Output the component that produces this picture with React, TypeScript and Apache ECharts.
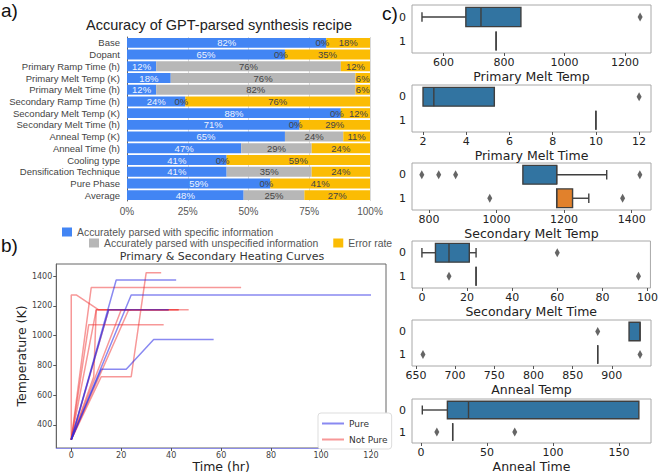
import React, { useEffect, useRef } from 'react';
import * as echarts from 'echarts';

// ---------- Panel a data ----------
const barCategories = ['Base', 'Dopant', 'Primary Ramp Time (h)', 'Primary Melt Temp (K)', 'Primary Melt Time (h)', 'Secondary Ramp Time (h)', 'Secondary Melt Temp (K)', 'Secondary Melt Time (h)', 'Anneal Temp (K)', 'Anneal Time (h)', 'Cooling type', 'Densification Technique', 'Pure Phase', 'Average'];
const specificInfo = [82, 65, 12, 18, 12, 24, 88, 71, 65, 47, 41, 41, 59, 48];
const unspecifiedInfo = [0, 0, 76, 76, 82, 0, 0, 0, 24, 29, 0, 35, 0, 25];
const errorRate = [18, 35, 12, 6, 6, 76, 12, 29, 11, 24, 59, 24, 41, 27];
const pctTicks = [0, 25, 50, 75, 100];

// ---------- Panel b data (time hr, temperature K) ----------
const pureCurves = [
  [[0, 300], [18, 1373], [42, 1373]],
  [[0, 300], [24, 1273], [120, 1273]],
  [[0, 300], [12, 773], [22, 773], [33, 973], [57, 973]],
  [[0, 300], [15, 1173], [39, 1173]],
];
const notPureCurves = [
  [[0, 300], [0, 1273], [2, 1273], [11, 1173], [43, 1173]],
  [[0, 300], [8, 1323], [68, 1323]],
  [[0, 300], [12, 723], [24, 723], [30, 1423], [36, 1423]],
  [[0, 300], [7, 1073], [37, 1073]],
  [[0, 300], [10, 1173], [39, 1173]],
  [[0, 300], [15, 1173], [39, 1173]],
  [[0, 300], [9, 723], [10, 1173], [47, 1173]],
  [[0, 300], [20, 1173], [24, 1173]],
  [[0, 300], [23, 1173], [43, 1173]],
];
const timeTicks = [0, 20, 40, 60, 80, 100, 120];
const tempTicks = [400, 600, 800, 1000, 1200, 1400];

// ---------- Panel c data: [group, whiskerLow, q1, median, q3, whiskerHigh] ----------
const boxGroups = ['0', '1'];
const primaryMeltTempStats = [[0, 529, 674, 724, 856, 856], [1, 774, 774, 774, 774, 774]];
const primaryMeltTempOutliers = [[1250, 0]];
const primaryMeltTempTicks = [600, 800, 1000, 1200];

const primaryMeltTimeStats = [[0, 2, 2, 2.5, 5.3, 5.3], [1, 10, 10, 10, 10, 10]];
const primaryMeltTimeOutliers = [[12, 0]];
const primaryMeltTimeTicks = [2, 4, 6, 8, 10, 12];

const secondaryMeltTempStats = [[0, 1078, 1078, 1178, 1178, 1326], [1, 1178, 1178, 1178, 1225, 1273]];
const secondaryMeltTempOutliers = [[779, 0], [829, 0], [879, 0], [1424, 0], [980, 1], [1373, 1]];
const secondaryMeltTempTicks = [800, 1000, 1200, 1400];

const secondaryMeltTimeStats = [[0, 0, 6, 12, 21, 24], [1, 24, 24, 24, 24, 24]];
const secondaryMeltTimeOutliers = [[60, 0], [12, 1], [96, 1]];
const secondaryMeltTimeTicks = [0, 20, 40, 60, 80, 100];

const annealTempStats = [[0, 922, 922, 936, 936, 936], [1, 882, 882, 882, 882, 882]];
const annealTempOutliers = [[882, 0], [659, 1], [936, 1]];
const annealTempTicks = [650, 700, 750, 800, 850, 900];

const annealTimeStats = [[0, 1, 20, 36, 165, 165], [1, 24, 24, 24, 24, 24]];
const annealTimeOutliers = [[12, 1], [71, 1]];
const annealTimeTicks = [0, 50, 100, 150];

const BOX_COLORS = ['#3274a1', '#e1812c'];
const EDGE = '#3f3f3f';
const plain = (v: number) => String(v);

function renderBox(params: any, api: any) {
  const cat = api.value(0);
  const lo = api.value(1), q1 = api.value(2), med = api.value(3), q3 = api.value(4), hi = api.value(5);
  const pQ1 = api.coord([q1, cat]);
  const y = pQ1[1];
  const band = api.size([0, 1])[1];
  const h = band * 0.8;
  const xLo = api.coord([lo, cat])[0];
  const xQ1 = pQ1[0];
  const xMed = api.coord([med, cat])[0];
  const xQ3 = api.coord([q3, cat])[0];
  const xHi = api.coord([hi, cat])[0];
  const ls = { stroke: EDGE, lineWidth: 1.4 };
  const children: any[] = [];
  if (xLo < xQ1 - 0.5) {
    children.push({ type: 'line', shape: { x1: xLo, y1: y, x2: xQ1, y2: y }, style: ls });
    children.push({ type: 'line', shape: { x1: xLo, y1: y - h / 4, x2: xLo, y2: y + h / 4 }, style: ls });
  }
  if (xHi > xQ3 + 0.5) {
    children.push({ type: 'line', shape: { x1: xQ3, y1: y, x2: xHi, y2: y }, style: ls });
    children.push({ type: 'line', shape: { x1: xHi, y1: y - h / 4, x2: xHi, y2: y + h / 4 }, style: ls });
  }
  children.push({ type: 'rect', shape: { x: xQ1, y: y - h / 2, width: xQ3 - xQ1, height: h }, style: { fill: BOX_COLORS[cat], stroke: EDGE, lineWidth: 1.4 } });
  children.push({ type: 'line', shape: { x1: xMed, y1: y - h / 2, x2: xMed, y2: y + h / 2 }, style: ls });
  return { type: 'group', children };
}

export default function App() {
  const ref = useRef<HTMLDivElement>(null);
  useEffect(() => {
    const chart = echarts.init(ref.current!, null, { renderer: 'svg' });
    const fA = 'Liberation Sans';
    const fB = 'DejaVu Sans';

    const boxPanels = [
      { title: 'Primary Melt Temp', top: 5, height: 48, min: 496, max: 1286, ticks: primaryMeltTempTicks, stats: primaryMeltTempStats, outliers: primaryMeltTempOutliers },
      { title: 'Primary Melt Time', top: 85, height: 47, min: 1.49, max: 12.55, ticks: primaryMeltTimeTicks, stats: primaryMeltTimeStats, outliers: primaryMeltTimeOutliers },
      { title: 'Secondary Melt Temp', top: 163, height: 47, min: 750, max: 1457, ticks: secondaryMeltTempTicks, stats: secondaryMeltTempStats, outliers: secondaryMeltTempOutliers },
      { title: 'Secondary Melt Time', top: 241, height: 47, min: -4.4, max: 101.3, ticks: secondaryMeltTimeTicks, stats: secondaryMeltTimeStats, outliers: secondaryMeltTimeOutliers },
      { title: 'Anneal Temp', top: 320, height: 46, min: 645, max: 950, ticks: annealTempTicks, stats: annealTempStats, outliers: annealTempOutliers },
      { title: 'Anneal Time', top: 399, height: 46, min: -6.8, max: 174.2, ticks: annealTimeTicks, stats: annealTimeStats, outliers: annealTimeOutliers },
    ];

    const grids: any[] = [
      { left: 127, width: 243, top: 37, height: 164 },
      { left: 50, width: 336, top: 264, height: 184, show: true, borderColor: '#666', borderWidth: 1 },
    ];
    const xAxes: any[] = [
      {
        gridIndex: 0, type: 'value', min: 0, max: 100, interval: 25,
        axisLine: { show: false }, axisTick: { show: false },
        axisLabel: { formatter: '{value}%', fontSize: 10, color: '#555', fontFamily: fA, margin: 5, customValues: pctTicks },
        splitLine: { show: true, lineStyle: { color: '#d9d9d9', width: 1 } },
      },
      {
        gridIndex: 1, type: 'value', min: -6, max: 126,
        axisLine: { show: true, onZero: false, lineStyle: { color: '#8c8ce6', width: 1.2 } },
        axisTick: { show: true, length: 3, customValues: timeTicks, lineStyle: { color: '#555' } },
        axisLabel: { customValues: timeTicks, formatter: plain, fontSize: 8, color: '#444', fontFamily: fB, margin: 3 },
        splitLine: { show: false },
        name: 'Time (hr)', nameLocation: 'middle', nameGap: 12,
        nameTextStyle: { fontSize: 12.5, color: '#222', fontFamily: fB },
      },
    ];
    const yAxes: any[] = [
      {
        gridIndex: 0, type: 'category', data: barCategories, inverse: true,
        axisLine: { show: true, onZero: false, lineStyle: { color: '#666' } }, axisTick: { show: false },
        axisLabel: { interval: 0, fontSize: 9.5, color: '#444', fontFamily: fA, margin: 7 },
      },
      {
        gridIndex: 1, type: 'value', min: 244, max: 1481,
        axisLine: { show: true, onZero: false, lineStyle: { color: '#666' } },
        axisTick: { show: true, length: 3, customValues: tempTicks, lineStyle: { color: '#555' } },
        axisLabel: { customValues: tempTicks, formatter: plain, fontSize: 8, color: '#444', fontFamily: fB, margin: 4 },
        splitLine: { show: false },
        name: 'Temperature (K)', nameLocation: 'middle', nameGap: 28, nameRotate: 90,
        nameTextStyle: { fontSize: 12.5, color: '#222', fontFamily: fB },
      },
    ];

    // Nudge touching labels apart where a zero segment sits next to a narrow one
    const unspecData = unspecifiedInfo.map((v) => (v === 0 ? { value: v, label: { offset: [-4, 0] } } : v));
    const errorData = errorRate.map((v, i) => (unspecifiedInfo[i] === 0 && v <= 15 ? { value: v, label: { offset: [3, 0] } } : v));

    const series: any[] = [
      {
        name: 'Accurately parsed with specific information', type: 'bar', stack: 'acc', xAxisIndex: 0, yAxisIndex: 0,
        data: specificInfo, barCategoryGap: '15%', itemStyle: { color: '#4285f4' },
        label: { show: true, position: 'inside', formatter: '{c}%', fontSize: 9.5, color: '#eef3ff', fontFamily: fA },
      },
      {
        name: 'Accurately parsed with unspecified information', type: 'bar', stack: 'acc', xAxisIndex: 0, yAxisIndex: 0,
        data: unspecData, itemStyle: { color: '#b7b7b7' },
        label: { show: true, position: 'inside', formatter: '{c}%', fontSize: 9.5, color: '#444', fontFamily: fA },
      },
      {
        name: 'Error rate', type: 'bar', stack: 'acc', xAxisIndex: 0, yAxisIndex: 0,
        data: errorData, itemStyle: { color: '#fbbc04' },
        label: { show: true, position: 'inside', formatter: '{c}%', fontSize: 9.5, color: '#444', fontFamily: fA },
      },
    ];

    const red = 'rgba(240,50,50,0.5)';
    const blue = 'rgba(40,40,230,0.55)';
    notPureCurves.forEach((c) => {
      series.push({ name: 'Not Pure', type: 'line', xAxisIndex: 1, yAxisIndex: 1, data: c, showSymbol: false, symbol: 'none', color: red, lineStyle: { color: red, width: 1.5 } });
    });
    pureCurves.forEach((c) => {
      series.push({ name: 'Pure', type: 'line', xAxisIndex: 1, yAxisIndex: 1, data: c, showSymbol: false, symbol: 'none', color: blue, lineStyle: { color: blue, width: 1.5 } });
    });

    boxPanels.forEach((p, i) => {
      const gi = i + 2;
      grids.push({ left: 412, width: 239, top: p.top, height: p.height, show: true, borderColor: '#a8a8a8', borderWidth: 1 });
      xAxes.push({
        gridIndex: gi, type: 'value', min: p.min, max: p.max,
        axisLine: { show: false, onZero: false },
        axisTick: { show: true, length: 3, customValues: p.ticks, lineStyle: { color: '#555' } },
        axisLabel: { customValues: p.ticks, formatter: plain, fontSize: 11, color: '#222', fontFamily: fB, margin: 4 },
        splitLine: { show: false },
        name: p.title, nameLocation: 'middle', nameGap: 17,
        nameTextStyle: { fontSize: 12.5, color: '#222', fontFamily: fB },
      });
      yAxes.push({
        gridIndex: gi, type: 'category', data: boxGroups, inverse: true,
        axisLine: { show: false, onZero: false },
        axisTick: { show: false },
        axisLabel: { interval: 0, fontSize: 11, color: '#222', fontFamily: fB, margin: 6 },
      });
      series.push({
        type: 'custom', xAxisIndex: gi, yAxisIndex: gi, renderItem: renderBox,
        encode: { x: [1, 2, 3, 4, 5], y: 0 }, data: p.stats, silent: true,
      });
      series.push({
        type: 'scatter', xAxisIndex: gi, yAxisIndex: gi, data: p.outliers,
        symbol: 'diamond', symbolSize: [5, 9], itemStyle: { color: EDGE }, silent: true,
      });
    });

    const option: any = {
      animation: false,
      backgroundColor: '#fff',
      textStyle: { fontFamily: fB },
      title: [
        { text: 'Accuracy of GPT-parsed synthesis recipe', left: 214, top: 12, textAlign: 'center', textStyle: { fontSize: 14.5, fontWeight: 'normal', color: '#222', fontFamily: fA } },
        { text: 'Primary & Secondary Heating Curves', left: 217, top: 246, textAlign: 'center', textStyle: { fontSize: 11, fontWeight: 'normal', color: '#333', fontFamily: fB } },
      ],
      legend: [
        {
          data: ['Accurately parsed with specific information'], left: 57, top: 222,
          icon: 'rect', itemWidth: 10, itemHeight: 9, itemGap: 10,
          textStyle: { fontSize: 10.4, color: '#555', fontFamily: fA }, selectedMode: false,
        },
        {
          data: ['Accurately parsed with unspecified information', 'Error rate'], left: 84, top: 233,
          icon: 'rect', itemWidth: 10, itemHeight: 9, itemGap: 15,
          textStyle: { fontSize: 10.4, color: '#555', fontFamily: fA }, selectedMode: false,
        },
        {
          data: ['Pure', 'Not Pure'], left: 318, top: 413, orient: 'vertical',
          icon: 'rect', itemWidth: 22, itemHeight: 2, itemGap: 7, padding: [6, 4, 5, 4],
          backgroundColor: '#fff', borderColor: '#ddd', borderWidth: 1, borderRadius: 3,
          textStyle: { fontSize: 9, color: '#333', fontFamily: fB }, selectedMode: false,
        },
      ],
      grid: grids,
      xAxis: xAxes,
      yAxis: yAxes,
      series,
      graphic: [
        { type: 'text', left: 1, top: 1, style: { text: 'a)', fontSize: 19, fill: '#111', fontFamily: fA } },
        { type: 'text', left: 1, top: 236, style: { text: 'b)', fontSize: 19, fill: '#111', fontFamily: fA } },
        { type: 'text', left: 382, top: 4, style: { text: 'c)', fontSize: 19, fill: '#111', fontFamily: fA } },
      ],
    };
    chart.setOption(option);
    return () => chart.dispose();
  }, []);
  return <div ref={ref} style={{ position: 'fixed', left: 0, top: 0, width: 661, height: 474, background: '#fff' }} />;
}
